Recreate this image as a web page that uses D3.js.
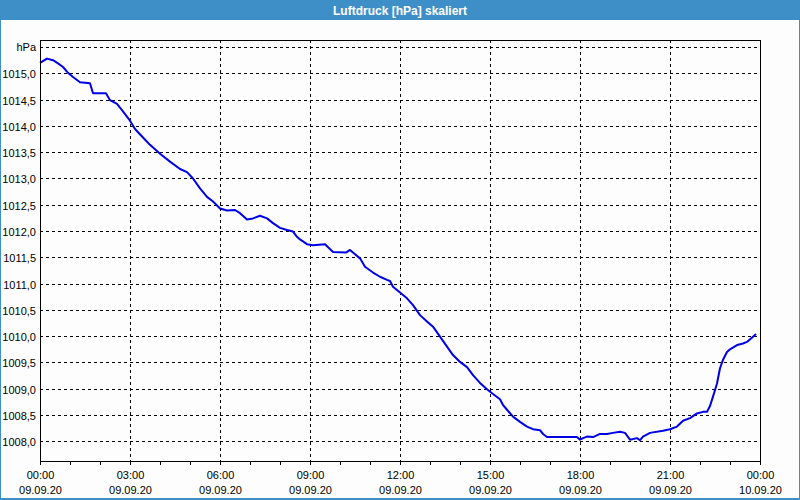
<!DOCTYPE html>
<html><head><meta charset="utf-8">
<script src="https://cdn.jsdelivr.net/npm/d3@7"></script>
<style>html,body{margin:0;padding:0;background:#fcfdfc;}svg{display:block;}</style>
</head><body>
<script>
const title = "Luftdruck [hPa] skaliert";
const unitLabel = "hPa";
// minutes since 09.09.20 00:00
const minutes = [0,14,26,36,46,56,66,80,100,106,132,140,154,164,180,190,206,220,240,260,280,294,306,320,334,346,360,374,390,400,414,426,440,454,466,480,494,506,514,520,534,546,570,586,612,620,626,640,650,666,680,694,700,706,720,734,746,760,774,786,800,814,826,840,854,866,880,894,906,920,926,934,946,960,974,986,1000,1006,1014,1074,1080,1086,1094,1106,1120,1134,1146,1160,1170,1180,1194,1200,1206,1220,1246,1260,1274,1286,1300,1314,1326,1334,1340,1346,1354,1360,1366,1374,1380,1394,1406,1414,1426,1432];
const pressure = [1015.20,1015.28,1015.25,1015.19,1015.12,1015.01,1014.93,1014.83,1014.81,1014.62,1014.62,1014.49,1014.42,1014.30,1014.10,1013.94,1013.78,1013.64,1013.47,1013.32,1013.18,1013.12,1013.00,1012.81,1012.65,1012.56,1012.43,1012.39,1012.40,1012.34,1012.22,1012.24,1012.29,1012.24,1012.15,1012.06,1012.02,1011.99,1011.89,1011.84,1011.75,1011.73,1011.75,1011.60,1011.59,1011.64,1011.59,1011.48,1011.32,1011.21,1011.13,1011.07,1011.05,1010.94,1010.83,1010.72,1010.59,1010.40,1010.28,1010.18,1009.99,1009.80,1009.64,1009.51,1009.41,1009.26,1009.11,1008.99,1008.90,1008.80,1008.69,1008.60,1008.47,1008.37,1008.28,1008.23,1008.21,1008.14,1008.08,1008.08,1008.03,1008.06,1008.09,1008.08,1008.14,1008.14,1008.16,1008.18,1008.16,1008.03,1008.06,1008.02,1008.09,1008.16,1008.20,1008.23,1008.28,1008.39,1008.44,1008.53,1008.56,1008.56,1008.67,1008.85,1009.10,1009.39,1009.55,1009.70,1009.75,1009.83,1009.86,1009.89,1009.99,1010.04];
const yTicks = [1008.0,1008.5,1009.0,1009.5,1010.0,1010.5,1011.0,1011.5,1012.0,1012.5,1013.0,1013.5,1014.0,1014.5,1015.0];
const yTop = 1015.5;
const xTickTimes = ["00:00","03:00","06:00","09:00","12:00","15:00","18:00","21:00","00:00"];
const xTickDates = ["09.09.20","09.09.20","09.09.20","09.09.20","09.09.20","09.09.20","09.09.20","09.09.20","10.09.20"];

const W = 800, H = 500;
const L = 40, R = 760, T = 40, B = 461;
const svg = d3.select("body").append("svg").attr("width", W).attr("height", H);
svg.append("rect").attr("width", W).attr("height", H).attr("fill", "#fcfdfc");
// title bar
svg.append("rect").attr("x",0).attr("y",0).attr("width",W).attr("height",20).attr("fill","#3e8fc7");
svg.append("rect").attr("x",0).attr("y",20).attr("width",1).attr("height",H-20).attr("fill","#3e8fc7");
svg.append("rect").attr("x",W-1).attr("y",20).attr("width",1).attr("height",H-20).attr("fill","#3e8fc7");
svg.append("rect").attr("x",0).attr("y",H-2).attr("width",W).attr("height",2).attr("fill","#3e8fc7");
svg.append("text").attr("x",W/2).attr("y",14.5).attr("text-anchor","middle")
  .attr("font-family","Liberation Sans, Arial, sans-serif").attr("font-size",12).attr("font-weight","bold")
  .attr("fill","#ffffff").text(title);

const x = d3.scaleLinear().domain([0, 1440]).range([L, R]);
const y = d3.scaleLinear().domain([1007.625, 1015.634]).range([B, T]);

const font = "Liberation Sans, Arial, sans-serif";
// horizontal grid
const hGrid = yTicks.concat([yTop]);
svg.append("g").selectAll("line").data(hGrid).join("line")
  .attr("x1", L).attr("x2", R)
  .attr("y1", d => Math.round(y(d)) + 0.5).attr("y2", d => Math.round(y(d)) + 0.5)
  .attr("stroke", "#000").attr("stroke-width", 1).attr("stroke-dasharray", "3,3");
// vertical grid
const vGrid = d3.range(180, 1440, 180);
svg.append("g").selectAll("line").data(vGrid).join("line")
  .attr("y1", T).attr("y2", B)
  .attr("x1", d => Math.round(x(d)) + 0.5).attr("x2", d => Math.round(x(d)) + 0.5)
  .attr("stroke", "#000").attr("stroke-width", 1).attr("stroke-dasharray", "3,3");

// y labels
svg.append("g").selectAll("text").data(yTicks).join("text")
  .attr("x", 36).attr("y", d => Math.round(y(d)) + 4.5).attr("text-anchor", "end")
  .attr("font-family", font).attr("font-size", 11).attr("fill", "#000")
  .text(d => d3.format(".1f")(d).replace(".", ","));
svg.append("text").attr("x", 36).attr("y", Math.round(y(yTop)) + 4)
  .attr("text-anchor", "end").attr("font-family", font).attr("font-size", 11).attr("fill", "#000").text(unitLabel);

// bottom ticks every hour
const xAxis = d3.axisBottom(x).tickValues(d3.range(0, 1441, 60)).tickSize(4).tickFormat("");
const gx = svg.append("g").attr("transform", `translate(0,${B})`).call(xAxis);
gx.select(".domain").remove();
gx.selectAll(".tick line").attr("stroke", "#000");

// x labels
const xt = d3.range(0, 1441, 180);
svg.append("g").selectAll("text").data(xt).join("text")
  .attr("x", d => x(d) + 0.5).attr("y", 479).attr("text-anchor", "middle")
  .attr("font-family", font).attr("font-size", 11).attr("fill", "#000")
  .text((d, i) => xTickTimes[i]);
svg.append("g").selectAll("text").data(xt).join("text")
  .attr("x", d => x(d) + 0.5).attr("y", 494).attr("text-anchor", "middle")
  .attr("font-family", font).attr("font-size", 11).attr("fill", "#000")
  .text((d, i) => xTickDates[i]);

// line
const data = minutes.map((m, i) => ({m, p: pressure[i]}));
svg.append("path").datum(data)
  .attr("fill", "none").attr("stroke", "#0000e6").attr("stroke-width", 2).attr("stroke-linejoin", "round")
  .attr("d", d3.line().x(d => x(d.m)).y(d => y(d.p)));

// frame
svg.append("rect").attr("x", L + 0.5).attr("y", T + 0.5).attr("width", R - L).attr("height", B - T)
  .attr("fill", "none").attr("stroke", "#000").attr("stroke-width", 1);
</script>
</body></html>
